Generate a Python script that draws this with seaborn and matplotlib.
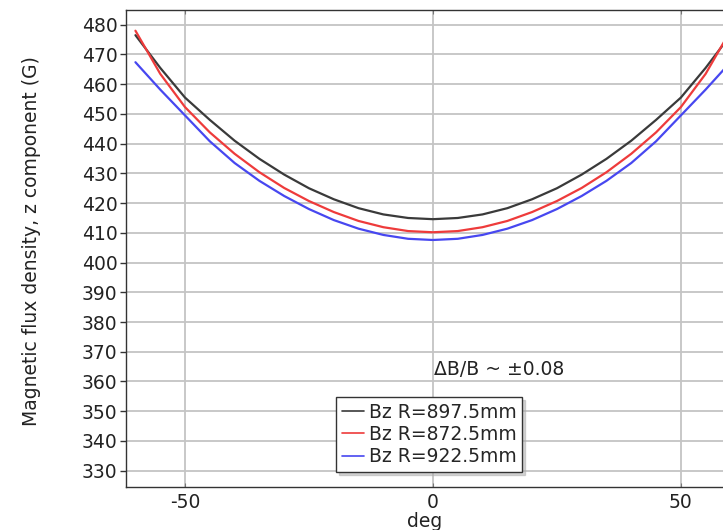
import numpy as np
import pandas as pd
import seaborn as sns
import matplotlib.pyplot as plt

# angle (deg) and Bz values
deg = [-60, -55, -50, -45, -40, -35, -30, -25, -20, -15, -10, -5, 0,
       5, 10, 15, 20, 25, 30, 35, 40, 45, 50, 55, 60]
bz_897 = [476.5, 465.5, 455.5, 448.0, 441.0, 434.9, 429.6, 425.0, 421.3, 418.3, 416.2, 415.0, 414.6,
          415.0, 416.2, 418.3, 421.3, 425.0, 429.6, 434.9, 441.0, 448.0, 455.5, 465.5, 476.5]
bz_872 = [478.0, 463.5, 452.3, 443.8, 436.6, 430.4, 425.1, 420.7, 417.0, 414.0, 411.9, 410.6, 410.2,
          410.6, 411.9, 414.0, 417.0, 420.7, 425.1, 430.4, 436.6, 443.8, 452.3, 463.5, 478.0]
bz_922 = [467.4, 458.2, 449.5, 440.8, 433.5, 427.5, 422.4, 418.0, 414.3, 411.4, 409.3, 408.0, 407.6,
          408.0, 409.3, 411.4, 414.3, 418.0, 422.4, 427.5, 433.5, 440.8, 449.5, 458.2, 467.4]

labels = ["Bz R=897.5mm", "Bz R=872.5mm", "Bz R=922.5mm"]
colors = ["#3a3a3a", "#ee3b3b", "#4747f0"]

df = pd.DataFrame({
    "deg": deg * 3,
    "Bz": bz_897 + bz_872 + bz_922,
    "series": [labels[0]] * len(deg) + [labels[1]] * len(deg) + [labels[2]] * len(deg),
})

sns.set_style("white")
plt.rcParams['font.family'] = ['DejaVu Sans']
plt.rcParams['axes.unicode_minus'] = False

fs = 13.5
fig = plt.figure(figsize=(7.23, 5.30), dpi=100)
# axes runs off the right edge of the figure, as in the reference
ax = fig.add_axes([0.1743, 0.0811, 1 - 0.1743, 0.8991])

sns.lineplot(data=df, x="deg", y="Bz", hue="series", hue_order=labels,
             palette=colors, linewidth=1.6, ax=ax, legend=False)

ax.set_xlim(-61.9, 58.5)
ax.set_ylim(324.5, 484.8)
ax.set_xticks([-50, 0, 50])
ax.set_yticks(np.arange(330, 481, 10))
ax.grid(True, color="#c4c4c4", linewidth=1.3)
ax.set_axisbelow(True)

for s in ["left", "top", "bottom"]:
    ax.spines[s].set_color("#333333")
    ax.spines[s].set_linewidth(1.0)
ax.spines["right"].set_visible(False)

ax.tick_params(axis="y", which="both", left=True, length=4, width=1, color="#333333",
               labelsize=fs, labelcolor="#222222", pad=2)
ax.tick_params(axis="x", bottom=True, top=True, direction="in", length=3, color="#777777",
               labelsize=fs, labelcolor="#222222", pad=4)

ax.set_xlabel("deg", fontsize=fs, color="#222222", labelpad=0)
ax.set_ylabel("Magnetic flux density, z component (G)", fontsize=fs, color="#222222")
ax.yaxis.set_label_coords(-0.142, 0.516)

ax.text(0.3, 364.2, "ΔB/B ~ ±0.08", fontsize=fs, color="#222222", va="center", ha="left")

handles = [plt.Line2D([], [], color=c, linewidth=1.2) for c in colors]
leg = ax.legend(handles, labels, loc="upper left", bbox_to_anchor=(336 / 723, 1 - 397 / 530),
                bbox_transform=fig.transFigure, borderaxespad=0, fontsize=fs,
                fancybox=False, shadow={"color": "#aaaaaa"}, framealpha=1, handlelength=1.2,
                handletextpad=0.25, borderpad=0.3, labelspacing=0.18)
leg.get_frame().set_edgecolor("#333333")
leg.get_frame().set_linewidth(1.0)

fig.savefig("out.png", dpi=100)
